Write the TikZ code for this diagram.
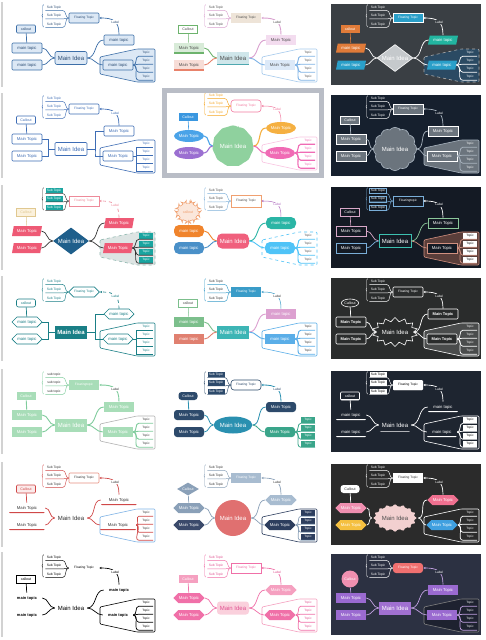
\documentclass[tikz,border=0pt]{standalone}
\usepackage{fontspec}
\setmainfont{Liberation Sans}
\usetikzlibrary{positioning, arrows.meta, calc, shapes.geometric, shapes.symbols, shapes.misc, decorations.pathreplacing}

\definecolor{blA}{HTML}{3D6FA8}\definecolor{blAl}{HTML}{DCE8F5}\definecolor{blAd}{HTML}{2B4C73}
\definecolor{tealL}{HTML}{CFE6EA}\definecolor{teal2}{HTML}{4FA8B0}\definecolor{grnL}{HTML}{D8EBD8}
\definecolor{grn}{HTML}{6DB36D}\definecolor{salL}{HTML}{F7DDD7}\definecolor{sal}{HTML}{E8826B}
\definecolor{pnkL}{HTML}{F3DCEF}\definecolor{pnk}{HTML}{D9A0CF}\definecolor{bluL}{HTML}{DCE9F8}
\definecolor{blu}{HTML}{7FB3E6}\definecolor{beige}{HTML}{EEE4D8}
\definecolor{bgA3}{HTML}{3A3F44}\definecolor{orgA}{HTML}{E07B39}\definecolor{cyA}{HTML}{2A9FC9}
\definecolor{tealA}{HTML}{22B5A0}\definecolor{graydia}{HTML}{C5C9CC}\definecolor{bndA3}{HTML}{2B4A63}
\definecolor{blB}{HTML}{3E6DB5}
\definecolor{frm}{HTML}{B9BDC6}\definecolor{grnB}{HTML}{8FD19E}\definecolor{bluB}{HTML}{4AA3E8}
\definecolor{purB}{HTML}{9B6FD1}\definecolor{orgB}{HTML}{F5B041}\definecolor{pnkB}{HTML}{F06BB5}
\definecolor{callB}{HTML}{3A97E0}\definecolor{rosB}{HTML}{F27BA0}\definecolor{ambB}{HTML}{F5A623}
\definecolor{bgB3}{HTML}{16202E}\definecolor{grB3}{HTML}{6B747D}\definecolor{lnB3}{HTML}{A9B4BF}
\definecolor{navC}{HTML}{1F5F8B}\definecolor{redC}{HTML}{EE5A75}\definecolor{tlC}{HTML}{1AA5A0}
\definecolor{rosC}{HTML}{EE8A9A}\definecolor{crmC}{HTML}{FBF1DC}\definecolor{crmD}{HTML}{E0C890}
\definecolor{bndC}{HTML}{DDE4E3}\definecolor{bndCd}{HTML}{8FB8B0}\definecolor{dkC}{HTML}{333333}
\definecolor{redC2}{HTML}{F0607D}\definecolor{orgC2}{HTML}{F0842C}\definecolor{bluC2}{HTML}{4A90C8}
\definecolor{tlC2}{HTML}{2AB5A5}\definecolor{skyC2}{HTML}{4FC3F7}\definecolor{pchC2}{HTML}{F0A070}
\definecolor{purC2}{HTML}{B070C0}
\definecolor{bgC3}{HTML}{141A24}\definecolor{tlC3}{HTML}{3CC0B0}\definecolor{pnkC3}{HTML}{D8A8C8}
\definecolor{bluC3}{HTML}{7AAED8}\definecolor{grnC3}{HTML}{8BC79A}\definecolor{salC3}{HTML}{D09080}
\definecolor{bndC3}{HTML}{5A3E3A}
\definecolor{tlD}{HTML}{1A7F86}\definecolor{tlD2}{HTML}{3DB5B5}\definecolor{grnD2}{HTML}{7CBF8C}
\definecolor{salD2}{HTML}{E08070}\definecolor{pnkD2}{HTML}{DCA0D0}\definecolor{bluD2}{HTML}{5AAEE8}
\definecolor{cyD2}{HTML}{3A9CC8}\definecolor{bgD3}{HTML}{2A2C2C}\definecolor{gyD3}{HTML}{4A4C4C}
\definecolor{grnE}{HTML}{7FCC9C}\definecolor{grnEl}{HTML}{A8DDB8}\definecolor{cyE2}{HTML}{2A90B0}
\definecolor{navE2}{HTML}{2D4A6B}\definecolor{grnE2}{HTML}{3AA58A}\definecolor{bgE3}{HTML}{1E2530}
\definecolor{redF}{HTML}{D04848}\definecolor{pnkF}{HTML}{FBEAEA}\definecolor{salF}{HTML}{E89080}
\definecolor{corF2}{HTML}{E07070}\definecolor{gb1}{HTML}{8AA0B8}\definecolor{nv1}{HTML}{3B4A6B}
\definecolor{gb2}{HTML}{A8BCD0}\definecolor{nv2}{HTML}{2D3E5E}
\definecolor{bgF3}{HTML}{2B2B2B}\definecolor{blshF3}{HTML}{F2D0D0}\definecolor{pnkF3}{HTML}{F08FB0}
\definecolor{ylwF3}{HTML}{F5C040}\definecolor{rosF3}{HTML}{F07090}\definecolor{bluF3}{HTML}{40A0E0}
\definecolor{pnkG}{HTML}{FAD0DC}\definecolor{magG}{HTML}{E05090}\definecolor{hotG}{HTML}{F070A8}
\definecolor{pnkG2}{HTML}{F5A0C0}\definecolor{bgG3}{HTML}{2C3142}\definecolor{purG}{HTML}{A070D0}
\definecolor{purG2}{HTML}{9A6AD0}\definecolor{redG}{HTML}{F07070}\definecolor{pnkG3}{HTML}{F090B0}
\definecolor{lavG}{HTML}{C0A0E0}\definecolor{bndG3}{HTML}{1E2230}

\newcommand{\mtxt}{Main Topic}
\newcommand{\ctxt}{Callout}
\newcommand{\ftxt}{Floating Topic}
\newcommand{\stxt}{Sub Topic}

% one theme thumbnail: name, x, y, theme
\newcommand{\thumb}[4]{%
  \begin{scope}[shift={(#2,#3)}, #4]
    \path[bgc] (7,4) rectangle (157,85);
    \draw[bnd] (100,57) -- (137,49) -- (155,49) -- (155,82) -- (137,82) -- (100,74) -- cycle;
    \node[idea] (#1i) at (71,58) {Main Idea};
    \node[mt, mta] (#1a) at (27,48) {\mtxt};
    \node[mt, mtb] (#1b) at (27,65) {\mtxt};
    \node[mt, mtc] (#1c) at (119,40) {\mtxt};
    \node[mt, mtd] (#1d) at (118,65) {\mtxt};
    \node[call] (#1k) at (26,29) {\ctxt};
    \node[flt] (#1f) at (84,18) {\ftxt};
    \draw[calltail] (#1k) -- (#1a);
    \draw[ln, lna, lft] (#1i.west) to (#1a.east);
    \draw[ln, lnb, lft] (#1i.west) to (#1b.east);
    \draw[ln, lnc, rgt] (#1i.east) to (#1c.west);
    \draw[ln, lnd, rgt] (#1i.east) to (#1d.west);
    \foreach \j/\y in {1/7.5, 2/16, 3/24.5} {
      \node[sub] (#1s\j) at (54,\y) {\stxt};
      \draw[subln] (#1f.west) to[out=180, in=0] (#1s\j.south east) -- (#1s\j.south west);
    }
    \draw[subln, decorate, decoration={brace, amplitude=1.5pt}] (43.5,27) -- (43.5,4.5);
    \foreach \j/\y in {1/53, 2/61, 3/69, 4/77} {
      \node[tp] (#1t\j) at (146,\y) {Topic};
      \draw[ln, lnd, rgt] (#1d.east) to (#1t\j.south west) -- (#1t\j.south east);
    }
    \draw[ln, lnc, arr] (#1c.north) .. controls +(0,-14) and +(14,0) .. node[lbl, pos=.45] (#1l) {Label} (#1f.east);
  \end{scope}}

\begin{document}
\begin{tikzpicture}[x=1pt, y=-1pt,
    idea/.style={draw=blA, fill=blAl, text=blAd, rounded corners=2pt, minimum width=32pt, minimum height=13pt, inner sep=.5pt, line width=.6pt, font=\fontsize{6}{7}\selectfont},
    mt/.style={draw=blA, fill=blAl, text=blAd, rounded corners=1pt, minimum width=30pt, minimum height=10pt, inner sep=.5pt, line width=.6pt, font=\fontsize{4.2}{5}\selectfont},
    call/.style={mt, minimum width=19pt, minimum height=8pt, font=\fontsize{3.6}{4}\selectfont},
    flt/.style={mt, minimum width=30pt, font=\fontsize{3.2}{4}\selectfont},
    sub/.style={text=blAd, inner sep=.3pt, minimum width=17pt, minimum height=5.5pt, font=\fontsize{3.3}{4}\selectfont},
    tp/.style={text=blAd, inner sep=.3pt, minimum width=14pt, minimum height=6pt, font=\fontsize{3.1}{3.5}\selectfont},
    bnd/.style={draw=blA, fill=blAl, line width=.6pt, rounded corners=1pt},
    lbl/.style={text=blAd, fill=white, inner sep=.5pt, font=\fontsize{3.2}{4}\selectfont},
    bgc/.style={fill=none},
    ln/.style={draw=blA, line width=.7pt},
    subln/.style={draw=blA, line width=.45pt},
    calltail/.style={ln},
    arr/.style={-{Stealth[length=2.4pt, width=2.2pt]}},
    mta/.style={}, mtb/.style={}, mtc/.style={}, mtd/.style={},
    lna/.style={}, lnb/.style={}, lnc/.style={}, lnd/.style={},
    lft/.style={out=180, in=0}, rgt/.style={out=0, in=180},
    elb/.style={to path={(\tikztostart) -| ($(\tikztostart)!.5!(\tikztotarget)$) |- (\tikztotarget)}},
    ubar/.style={path picture={\draw[line width=2pt, draw=#1] (path picture bounding box.south west) -- (path picture bounding box.south east);}},
    para/.style={trapezium, trapezium left angle=70, trapezium right angle=110, trapezium stretches body, rounded corners=0pt},
    hexa/.style={signal, signal to=east and west, rounded corners=0pt},
    lc/.style={/utils/exec={\def\mtxt{main topic}\def\ctxt{callout}}},
    ft/.style={/utils/exec={\def\ftxt{Floatingtopic}}},
    selframe/.style={draw=frm, line width=5pt},
    leftrule/.style={draw=gray!35, line width=1.5pt},
    thA1/.style={lc},
    thA2/.style={
      ln/.append style={draw=gray!50, line width=.9pt},
      idea/.append style={fill=tealL, draw=none, text=black!70, rounded corners=0pt, ubar=teal2},
      mt/.append style={draw=none, text=black!70, rounded corners=0pt},
      mta/.style={fill=grnL, ubar=grn}, lna/.style={draw=grn},
      mtb/.style={fill=salL, ubar=sal}, lnb/.style={draw=sal},
      mtc/.style={fill=pnkL}, lnc/.style={draw=pnk},
      mtd/.style={fill=bluL}, lnd/.style={draw=blu},
      call/.append style={fill=white, draw=grn}, calltail/.style={draw=grn, line width=.5pt},
      flt/.append style={fill=beige},
      sub/.append style={text=black!70}, subln/.append style={draw=pnk},
      tp/.append style={text=black!70},
      bnd/.append style={fill=white, draw=blu!70},
      lbl/.append style={text=black!70}},
    thA3/.style={lc,
      bgc/.style={fill=bgA3},
      ln/.append style={draw=white},
      idea/.append style={diamond, aspect=1.3, inner sep=-3pt, minimum width=36pt, minimum height=27pt, fill=graydia, draw=white, text=white, rounded corners=0pt, font=\fontsize{6}{7}\selectfont},
      mt/.append style={para, draw=none, text=white, minimum height=9pt},
      mta/.style={fill=orgA}, mtb/.style={fill=cyA}, mtc/.style={fill=tealA}, mtd/.style={fill=cyA},
      call/.append style={rectangle, fill=orgA}, calltail/.style={draw=orgA, line width=.6pt},
      flt/.append style={rectangle, fill=cyA, draw=white},
      sub/.append style={text=white}, subln/.append style={draw=white},
      tp/.append style={text=white},
      bnd/.append style={fill=bndA3, draw=gray!60, dashed},
      lbl/.append style={text=white, fill=bgA3}},
    thB1/.style={
      ln/.append style={draw=blB}, lft/.style={elb}, rgt/.style={elb},
      idea/.append style={fill=white, draw=blB, text=blB, rounded corners=1pt},
      mt/.append style={fill=white, draw=blB, text=blB},
      sub/.append style={text=blB}, subln/.append style={draw=blB},
      tp/.append style={text=blB},
      bnd/.append style={fill=white, draw=blB},
      lbl/.append style={text=blB}},
    thB2/.style={
      ln/.append style={line width=1.1pt},
      idea/.append style={cloud, cloud puffs=11, cloud puff arc=110, fill=grnB, draw=none, text=white, inner sep=0pt, minimum width=36pt, minimum height=31pt},
      mt/.append style={ellipse, draw=none, text=white, minimum width=28pt, minimum height=12pt},
      mta/.style={fill=bluB}, lna/.style={draw=bluB}, mtb/.style={fill=purB}, lnb/.style={draw=purB},
      mtc/.style={fill=orgB}, lnc/.style={draw=orgB}, mtd/.style={fill=pnkB}, lnd/.style={draw=pnkB},
      call/.append style={rectangle, fill=callB, rounded corners=0pt}, calltail/.style={draw=callB, line width=.6pt},
      flt/.append style={rectangle, rounded corners=3pt, fill=white, draw=rosB, text=rosB},
      sub/.append style={text=ambB}, subln/.append style={draw=ambB},
      tp/.append style={text=pnkB},
      bnd/.append style={fill=white, draw=pnkB!40},
      lbl/.append style={text=rosB}, arr/.append style={draw=rosB, line width=.5pt}},
    thB3/.style={
      bgc/.style={fill=bgB3},
      ln/.append style={draw=lnB3},
      idea/.append style={cloud, cloud puffs=12, fill=grB3, draw=lnB3, text=white, inner sep=0pt, minimum width=40pt, minimum height=23pt},
      mt/.append style={fill=grB3, draw=white, text=white, rounded corners=0pt, line width=.3pt},
      sub/.append style={text=white}, subln/.append style={draw=white},
      tp/.append style={fill=grB3, text=white},
      bnd/.append style={fill=grB3, draw=lnB3},
      lbl/.append style={text=white, fill=bgB3}},
    thC1/.style={
      ln/.append style={draw=dkC},
      idea/.append style={diamond, aspect=1.3, inner sep=-3pt, minimum width=36pt, minimum height=27pt, fill=navC, draw=none, text=white, rounded corners=0pt},
      mt/.append style={para, fill=redC, draw=none, text=white},
      call/.append style={rectangle, fill=crmC, draw=crmD, text=crmD}, calltail/.style={draw=crmD, line width=.5pt},
      flt/.append style={rectangle, fill=white, draw=rosC, text=rosC},
      sub/.append style={fill=tlC, text=white}, subln/.append style={draw=dkC},
      tp/.append style={fill=tlC, text=white},
      bnd/.append style={fill=bndC, draw=bndCd, dashed},
      lbl/.append style={text=rosC}, arr/.append style={draw=rosC, dashed}},
    thC2/.style={lc,
      ln/.append style={line width=.9pt},
      idea/.append style={fill=redC2, draw=none, text=white, rounded corners=5pt, minimum height=15pt},
      mt/.append style={draw=none, text=white, rounded corners=5pt, minimum height=12pt},
      mta/.style={fill=orgC2}, lna/.style={draw=orgC2}, mtb/.style={fill=bluC2}, lnb/.style={draw=bluC2},
      mtc/.style={fill=tlC2}, lnc/.style={draw=tlC2}, mtd/.style={fill=skyC2}, lnd/.style={draw=skyC2},
      call/.append style={cloud, cloud puffs=9, fill=pchC2!25, draw=pchC2, text=pchC2, inner sep=0pt, minimum width=20pt, minimum height=11pt}, calltail/.style={draw=pchC2, line width=.5pt},
      flt/.append style={rectangle, rounded corners=0pt, fill=white, draw=pchC2, text=black!70},
      sub/.append style={text=black!70}, subln/.append style={draw=bluC2!70},
      tp/.append style={text=black!70},
      bnd/.append style={fill=white, draw=skyC2, dashed},
      lbl/.append style={text=purC2}, arr/.append style={draw=purC2, line width=.5pt}},
    thC3/.style={ft,
      bgc/.style={fill=bgC3},
      ln/.append style={draw=white!80},
      idea/.append style={fill=bgC3, draw=tlC3, text=white, rounded corners=0pt, line width=.8pt},
      mt/.append style={fill=bgC3, text=white, rounded corners=0pt, line width=.7pt},
      mta/.style={draw=pnkC3}, lna/.style={draw=pnkC3}, mtb/.style={draw=bluC3}, lnb/.style={draw=bluC3},
      mtc/.style={draw=grnC3}, lnc/.style={draw=grnC3}, mtd/.style={draw=salC3}, lnd/.style={draw=salC3},
      call/.append style={draw=pnkC3}, calltail/.style={draw=pnkC3, line width=.6pt},
      flt/.append style={draw=bluC3},
      sub/.append style={fill=bgC3, draw=bluC3, text=white}, subln/.append style={draw=bluC3},
      tp/.append style={fill=white, text=black},
      bnd/.append style={fill=bndC3, draw=salC3},
      lbl/.append style={text=white, fill=bgC3}, arr/.append style={draw=white}},
    thD1/.style={lc,
      ln/.append style={draw=tlD}, lft/.style={elb}, rgt/.style={elb},
      idea/.append style={fill=tlD, draw=none, text=white, rounded corners=0pt, font=\bfseries\fontsize{6}{7}\selectfont},
      mt/.append style={hexa, fill=white, draw=tlD, text=tlD},
      call/.append style={rectangle, rounded corners=2pt},
      sub/.append style={text=tlD}, subln/.append style={draw=tlD},
      tp/.append style={text=tlD},
      bnd/.append style={fill=white, draw=tlD},
      lbl/.append style={text=tlD}, arr/.append style={dashed}},
    thD2/.style={lc,
      ln/.append style={line width=.9pt},
      idea/.append style={fill=tlD2, draw=none, text=white, rounded corners=0pt},
      mt/.append style={draw=none, text=white, rounded corners=0pt},
      mta/.style={fill=grnD2}, lna/.style={draw=grnD2}, mtb/.style={fill=salD2}, lnb/.style={draw=salD2},
      mtc/.style={fill=pnkD2}, lnc/.style={draw=pnkD2}, mtd/.style={fill=bluD2}, lnd/.style={draw=bluD2},
      call/.append style={fill=white, draw=grnD2, text=black!70}, calltail/.style={draw=grnD2, line width=.5pt},
      flt/.append style={fill=cyD2, text=white},
      sub/.append style={text=black!80}, subln/.append style={draw=cyD2},
      tp/.append style={text=black!80},
      bnd/.append style={fill=white, draw=bluD2},
      lbl/.append style={text=black!80}, arr/.append style={draw=cyD2, line width=.5pt}},
    thD3/.style={
      bgc/.style={fill=bgD3},
      ln/.append style={draw=white},
      idea/.append style={starburst, starburst points=14, starburst point height=4pt, random starburst=0, fill=bgD3, draw=white, text=white, inner sep=0pt, rounded corners=0pt, minimum width=40pt, minimum height=29pt},
      mt/.append style={fill=bgD3, draw=white, text=white, font=\bfseries\fontsize{4}{5}\selectfont},
      call/.append style={ellipse, minimum width=17pt},
      sub/.append style={text=white}, subln/.append style={draw=white},
      tp/.append style={text=white},
      bnd/.append style={fill=gyD3, draw=white},
      lbl/.append style={text=white, fill=bgD3}},
    thE1/.style={/utils/exec={\def\stxt{sub topic}\def\ftxt{Floatingtopic}},
      ln/.append style={draw=grnE, line width=.9pt},
      idea/.append style={fill=grnEl, draw=none, text=white, rounded corners=0pt},
      mt/.append style={fill=grnEl, draw=none, text=white, rounded corners=0pt},
      sub/.append style={text=black!80}, subln/.append style={draw=grnE},
      tp/.append style={text=black!80},
      bnd/.append style={fill=white, draw=gray!60},
      lbl/.append style={text=black!80}},
    thE2/.style={
      ln/.append style={draw=cyE2, line width=.8pt},
      idea/.append style={ellipse, fill=cyE2, draw=none, text=white, minimum width=36pt, minimum height=17pt},
      mt/.append style={fill=navE2, draw=none, text=white, rounded corners=3pt},
      mtd/.style={fill=grnE2}, lnd/.style={draw=grnE2},
      call/.append style={fill=navE2},
      flt/.append style={fill=white, draw=navE2, text=navE2},
      sub/.append style={fill=navE2, text=white}, subln/.append style={draw=navE2},
      tp/.append style={fill=grnE2, text=white},
      bnd/.append style={draw=none, fill=none},
      lbl/.append style={text=navE2}},
    thE3/.style={lc,
      bgc/.style={fill=bgE3},
      ln/.append style={draw=white},
      idea/.append style={fill=none, draw=none, text=white, ubar=white},
      mt/.append style={fill=none, draw=none, text=white, ubar=white},
      call/.append style={draw=white},
      flt/.append style={fill=white, text=black},
      sub/.append style={fill=white, text=black}, subln/.append style={draw=white},
      tp/.append style={fill=white, text=black},
      bnd/.append style={fill=bgE3, draw=white},
      lbl/.append style={text=white, fill=bgE3}},
    thF1/.style={
      ln/.append style={draw=redF},
      idea/.append style={fill=none, draw=none, text=black!80},
      mt/.append style={fill=none, draw=none, text=black!80, ubar=redF, minimum width=36pt},
      call/.append style={fill=pnkF, draw=redF, text=redF, minimum width=19pt, path picture={}},
      flt/.append style={fill=white, draw=salF, minimum width=30pt, path picture={}},
      sub/.append style={text=black!80}, subln/.append style={draw=redF},
      tp/.append style={text=black!80},
      bnd/.append style={fill=white, draw=blu},
      lbl/.append style={text=black!80}},
    thF2/.style={
      ln/.append style={draw=gb1},
      idea/.append style={circle, fill=corF2, draw=none, text=white, minimum width=36pt},
      mt/.append style={hexa, draw=none, text=white},
      mta/.style={fill=gb1}, mtb/.style={fill=nv1}, mtc/.style={fill=gb2}, mtd/.style={fill=nv2},
      call/.append style={diamond, aspect=1.6, inner sep=-1pt, minimum width=22pt, minimum height=13pt, fill=gb1},
      flt/.append style={rectangle, fill=gb2, text=white},
      sub/.append style={text=black!80}, subln/.append style={draw=gb1},
      tp/.append style={fill=nv2, text=white},
      bnd/.append style={fill=white, draw=nv2},
      lbl/.append style={text=black!80}},
    thF3/.style={
      bgc/.style={fill=bgF3},
      ln/.append style={draw=white},
      idea/.append style={starburst, starburst points=16, starburst point height=4pt, random starburst=0, fill=blshF3, draw=none, text=black!70, inner sep=0pt, minimum width=40pt, minimum height=29pt},
      mt/.append style={hexa, draw=none, text=white},
      mta/.style={fill=pnkF3}, mtb/.style={fill=ylwF3}, mtc/.style={fill=rosF3}, mtd/.style={fill=bluF3},
      call/.append style={rectangle, rounded corners=3pt, fill=white, text=black!80},
      flt/.append style={rectangle, fill=white, text=black!80},
      sub/.append style={text=white}, subln/.append style={draw=white},
      tp/.append style={text=white},
      bnd/.append style={fill=bgF3, draw=white},
      lbl/.append style={text=white, fill=bgF3}},
    thG1/.style={lc,
      ln/.append style={draw=black},
      idea/.append style={fill=none, draw=none, text=black},
      mt/.append style={fill=none, draw=none, text=black, font=\bfseries\fontsize{4}{5}\selectfont},
      call/.append style={draw=black, fill=white, rounded corners=0pt},
      flt/.append style={draw=none, fill=none, text=black},
      sub/.append style={text=black}, subln/.append style={draw=black},
      tp/.append style={text=black},
      bnd/.append style={fill=white, draw=black},
      lbl/.append style={text=black}},
    thG2/.style={
      ln/.append style={draw=hotG},
      idea/.append style={fill=pnkG, draw=none, text=magG, rounded corners=3pt},
      mt/.append style={hexa, fill=hotG, draw=none, text=white},
      mtc/.style={fill=pnkG2},
      call/.append style={rectangle, fill=pnkG2, text=white},
      flt/.append style={rectangle, fill=white, draw=hotG, text=hotG},
      sub/.append style={text=magG}, subln/.append style={draw=hotG},
      tp/.append style={text=magG},
      bnd/.append style={fill=white, draw=pnkG2},
      lbl/.append style={text=magG}},
    thG3/.style={
      bgc/.style={fill=bgG3},
      ln/.append style={draw=lavG},
      idea/.append style={fill=purG, draw=none, text=white, rounded corners=0pt},
      mt/.append style={fill=purG2, draw=none, text=white, rounded corners=0pt},
      call/.append style={circle, fill=pnkG3, minimum width=17pt},
      flt/.append style={fill=redG, text=white, rounded corners=3pt},
      sub/.append style={text=white}, subln/.append style={draw=white},
      tp/.append style={text=white},
      bnd/.append style={fill=bndG3, draw=gray},
      lbl/.append style={text=white, fill=bgG3}}
  ]
  \fill[white] (0,0) rectangle (486,640);
  \useasboundingbox (0,0) rectangle (486,640);
  \foreach \o in {0, 91, 183, 274, 367, 460, 550}
    \draw[leftrule] (2,\o+2) -- (2,\o+87);

  \thumb{a1}{0}{0}{thA1}
  \thumb{a2}{162}{0}{thA2}
  \thumb{a3}{324}{0}{thA3}

  \thumb{b1}{0}{91}{thB1}
  \thumb{b2}{162}{88}{thB2}
  \thumb{b3}{324}{91}{thB3}

  \thumb{c1}{0}{183}{thC1}
  \thumb{c2}{162}{183}{thC2}
  \thumb{c3}{324}{183}{thC3}

  \thumb{d1}{0}{274}{thD1}
  \thumb{d2}{162}{274}{thD2}
  \thumb{d3}{324}{274}{thD3}

  \thumb{e1}{0}{367}{thE1}
  \thumb{e2}{162}{367}{thE2}
  \thumb{e3}{324}{367}{thE3}

  \thumb{f1}{0}{460}{thF1}
  \thumb{f2}{162}{460}{thF2}
  \thumb{f3}{324}{460}{thF3}

  \thumb{g1}{0}{550}{thG1}
  \thumb{g2}{162}{550}{thG2}
  \thumb{g3}{324}{550}{thG3}

  \draw[selframe] (164.5,90.5) rectangle (321.5,175.5);
\end{tikzpicture}
\end{document}
